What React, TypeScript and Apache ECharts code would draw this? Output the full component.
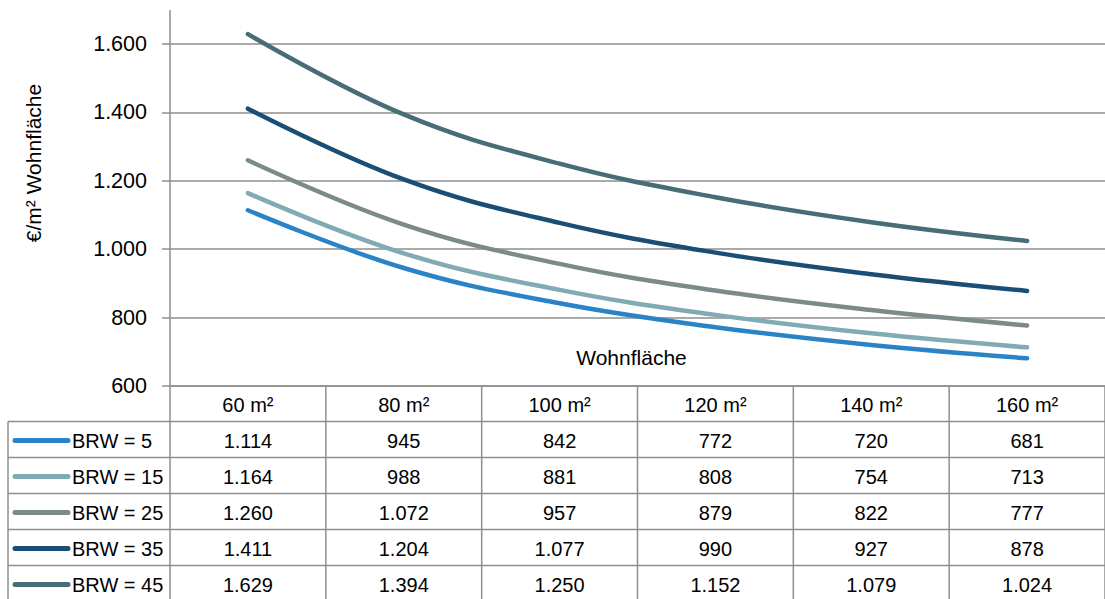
import React, { useEffect, useRef } from "react";
import * as echarts from "echarts";

const categories = ["60 m²", "80 m²", "100 m²", "120 m²", "140 m²", "160 m²"];
const seriesNames = ["BRW = 5", "BRW = 15", "BRW = 25", "BRW = 35", "BRW = 45"];
const brw5 = [1114, 945, 842, 772, 720, 681];
const brw15 = [1164, 988, 881, 808, 754, 713];
const brw25 = [1260, 1072, 957, 879, 822, 777];
const brw35 = [1411, 1204, 1077, 990, 927, 878];
const brw45 = [1629, 1394, 1250, 1152, 1079, 1024];
const seriesData = [brw5, brw15, brw25, brw35, brw45];
const colors = ["#2A83C6", "#80AAB4", "#7B8A8A", "#1A4E74", "#476D76"];
const yMin = 600;
const yMax = 1600;
const yInterval = 200;
const yTitle = "€/m² Wohnfläche";
const xTitle = "Wohnfläche";

const FONT = "'Liberation Sans', Arial, sans-serif";
const GRID_COLOR = "#8E8E8E";

const fmt = (n: number) => String(n).replace(/\B(?=(\d{3})+(?!\d))/g, ".");

export default function App() {
  const ref = useRef<HTMLDivElement>(null);
  useEffect(() => {
    if (!ref.current) return;
    const chart = echarts.init(ref.current, undefined, { renderer: "svg" });
    const option: any = {
      animation: false,
      backgroundColor: "#ffffff",
      grid: { left: 170, top: 44, width: 940, height: 342, containLabel: false },
      xAxis: {
        type: "category",
        data: categories,
        boundaryGap: true,
        axisLine: { show: true, lineStyle: { color: GRID_COLOR, width: 1.5 } },
        axisTick: { show: false },
        axisLabel: { show: false },
        splitLine: { show: false },
      },
      yAxis: {
        type: "value",
        min: yMin,
        max: yMax,
        interval: yInterval,
        axisLine: { show: true, lineStyle: { color: GRID_COLOR, width: 1.5 } },
        axisTick: { show: true, length: 8, lineStyle: { color: GRID_COLOR, width: 1.5 } },
        axisLabel: {
          formatter: (v: number) => fmt(v),
          fontFamily: FONT,
          fontSize: 21.5,
          color: "#000",
          margin: 23,
        },
        splitLine: { show: true, lineStyle: { color: GRID_COLOR, width: 1.5 } },
      },
      series: seriesData.map((d, i) => ({
        name: seriesNames[i],
        type: "line",
        data: d,
        smooth: 0.4,
        clip: false,
        symbol: "none",
        lineStyle: { color: colors[i], width: 4.5, cap: "round" },
        itemStyle: { color: colors[i] },
        z: 2 + i,
      })),
    };
    chart.setOption(option);

    const xs = categories.map((c) => chart.convertToPixel({ xAxisIndex: 0 }, c) as number);
    const band = xs[1] - xs[0];
    const yBase = chart.convertToPixel({ yAxisIndex: 0 }, yMin) as number;
    const yTop = chart.convertToPixel({ yAxisIndex: 0 }, yMax) as number;
    const gridLeft = xs[0] - band / 2;
    const gridRight = xs[xs.length - 1] + band / 2;
    const headerH = 35.5;
    const rowH = 36;
    const tableLeft = 8;
    const tableBottom = yBase + headerH + rowH * seriesData.length;
    const ls = { stroke: GRID_COLOR, lineWidth: 1.5 };

    const g: any[] = [];
    g.push({ type: "line", shape: { x1: gridLeft, y1: 10, x2: gridLeft, y2: yTop }, style: ls });
    for (let i = 0; i <= categories.length; i++) {
      const x = gridLeft + i * band;
      g.push({ type: "line", shape: { x1: x, y1: yBase, x2: x, y2: tableBottom }, style: ls });
    }
    g.push({ type: "line", shape: { x1: tableLeft, y1: yBase + headerH, x2: tableLeft, y2: tableBottom }, style: ls });
    for (let r = 0; r <= seriesData.length; r++) {
      const y = yBase + headerH + r * rowH;
      g.push({ type: "line", shape: { x1: tableLeft, y1: y, x2: gridRight, y2: y }, style: ls });
    }
    categories.forEach((c, i) => {
      g.push({
        type: "text",
        x: xs[i],
        y: yBase + headerH / 2 + 1,
        style: { text: c, fill: "#000", font: `20px ${FONT}`, align: "center", verticalAlign: "middle" },
      });
    });
    seriesData.forEach((d, r) => {
      const cy = yBase + headerH + r * rowH + rowH / 2 + 1;
      g.push({
        type: "line",
        shape: { x1: 15, y1: cy, x2: 68, y2: cy },
        style: { stroke: colors[r], lineWidth: 5, lineCap: "round" },
      });
      g.push({
        type: "text",
        x: 72,
        y: cy,
        style: { text: seriesNames[r], fill: "#000", font: `20px ${FONT}`, align: "left", verticalAlign: "middle" },
      });
      d.forEach((v, i) => {
        g.push({
          type: "text",
          x: xs[i],
          y: cy,
          style: { text: fmt(v), fill: "#000", font: `20px ${FONT}`, align: "center", verticalAlign: "middle" },
        });
      });
    });
    g.push({
      type: "text",
      x: (gridLeft + gridRight) / 2 - 6,
      y: 357,
      style: { text: xTitle, fill: "#000", font: `21px ${FONT}`, align: "center", verticalAlign: "middle" },
    });
    g.push({
      type: "text",
      x: 33,
      y: 163,
      rotation: Math.PI / 2,
      style: { text: yTitle, fill: "#000", font: `21px ${FONT}`, align: "center", verticalAlign: "middle" },
    });
    chart.setOption({ graphic: g });

    return () => chart.dispose();
  }, []);
  return (
    <div
      ref={ref}
      style={{ position: "fixed", left: 0, top: 0, width: 1105, height: 599, background: "#fff" }}
    />
  );
}
